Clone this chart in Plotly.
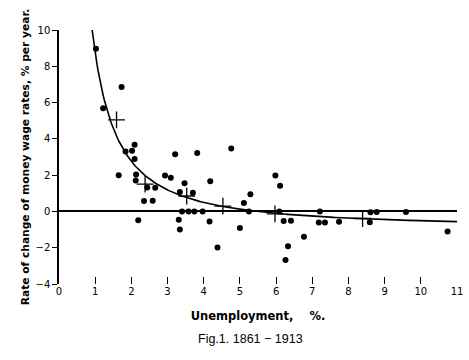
import numpy as np
import plotly.graph_objects as go

# Annual observations 1861-1913 (unemployment %, rate of change of money wage rates %)
unemployment = [1.02, 1.22, 1.73, 1.84, 2.02, 2.09, 2.09, 1.65, 2.13, 2.12,
                2.44, 2.66, 2.35, 2.59, 2.19, 3.21, 3.82, 4.76, 2.93, 3.09,
                3.47, 4.18, 3.34, 3.70, 3.40, 3.58, 3.74, 3.97, 3.31, 3.34,
                4.16, 4.38, 5.00, 5.11, 5.29, 5.25, 5.98, 6.11, 6.09, 6.21,
                6.41, 6.77, 6.33, 6.26, 7.21, 7.18, 7.35, 7.74, 8.61, 8.78,
                8.59, 9.59, 10.74]
wage_change = [8.96, 5.69, 6.86, 3.30, 3.34, 3.68, 2.89, 2.00, 2.04, 1.71,
               1.32, 1.31, 0.57, 0.59, -0.49, 3.15, 3.22, 3.47, 1.98, 1.85,
               1.55, 1.66, 1.07, 1.03, 0.00, 0.00, 0.00, 0.00, -0.46, -0.99,
               -0.55, -1.99, -0.92, 0.47, 0.94, 0.00, 1.98, 1.42, 0.00, -0.53,
               -0.52, -1.39, -1.92, -2.68, -0.01, -0.61, -0.61, -0.57, -0.04, -0.03,
               -0.59, -0.03, -1.10]

# Interval averages (crosses)
avg_unemployment = [1.59, 2.38, 3.53, 4.53, 5.97, 8.39]
avg_wage_change = [5.05, 1.50, 0.85, 0.29, -0.13, -0.39]

# Phillips' fitted curve: y + a = b * x^c
fit_a, fit_b, fit_c = 0.900, 9.638, -1.394
curve_x = np.linspace(0.915, 11, 300)
curve_y = fit_b * curve_x ** fit_c - fit_a

x_ticks = list(range(0, 12))
y_ticks = list(range(-4, 11, 2))

FONT = "DejaVu Sans"

fig = go.Figure()
fig.add_trace(go.Scatter(x=curve_x, y=curve_y, mode="lines",
                         line=dict(color="black", width=1.6), hoverinfo="skip"))
fig.add_trace(go.Scatter(x=unemployment, y=wage_change, mode="markers",
                         marker=dict(color="black", size=6)))
fig.add_trace(go.Scatter(x=avg_unemployment, y=avg_wage_change, mode="markers",
                         marker=dict(symbol="cross-thin", size=12,
                                     line=dict(color="black", width=1.3))))

fig.update_layout(
    width=469, height=360,
    margin=dict(l=59, r=12, t=30, b=76),
    paper_bgcolor="white", plot_bgcolor="white",
    showlegend=False,
    font=dict(family=FONT, color="black", size=11),
    xaxis=dict(range=[0, 11], tickvals=x_ticks, ticktext=[str(v) for v in x_ticks],
               automargin=False,
               showline=False, showgrid=False, zeroline=False,
               ticks="inside", ticklen=7, tickwidth=1.3, tickcolor="black",
               tickfont=dict(size=10, family=FONT),
               title=dict(text="<b>Unemployment,\u00a0\u00a0\u00a0\u00a0%.</b>",
                          font=dict(size=11.5, family=FONT), standoff=15)),
    yaxis=dict(range=[-4, 10], tickvals=y_ticks, ticktext=[str(v).replace("-", "\u2212") for v in y_ticks],
               automargin=False,
               showline=True, linecolor="black", linewidth=1.5,
               showgrid=False, zeroline=True, zerolinecolor="black", zerolinewidth=1.5,
               ticks="outside", ticklen=5, tickwidth=1.3, tickcolor="black",
               tickfont=dict(size=10, family=FONT),
               title=dict(text="<b>Rate of change of money wage rates, % per year.</b>",
                          font=dict(size=10.7, family=FONT), standoff=4)),
    annotations=[dict(text="Fig.1. 1861 \u2212 1913", xref="paper", yref="paper",
                      x=0.482, y=-0.218, xanchor="center", yanchor="middle",
                      showarrow=False, font=dict(size=12.5, family="Liberation Sans"))],
)

fig.write_html("out.html", config={"displayModeBar": False},
               post_script="document.body.style.margin='0';")
